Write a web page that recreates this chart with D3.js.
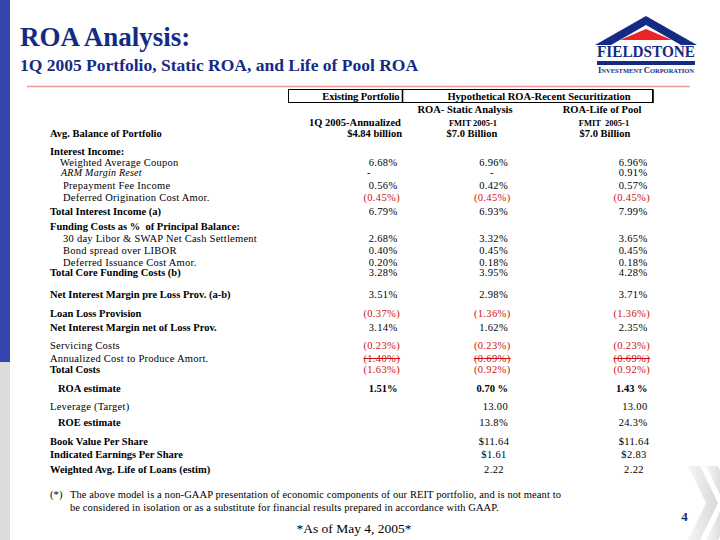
<!DOCTYPE html>
<html><head><meta charset="utf-8">
<script src="https://cdn.jsdelivr.net/npm/d3@7"></script>
<style>html,body{margin:0;padding:0;background:#fff;}svg{display:block;}</style>
</head><body>
<script>
// ---------------- DATA ----------------
const rowLabels = ["Interest Income:", "Weighted Average Coupon", "ARM Margin Reset", "Prepayment Fee Income",
  "Deferred Origination Cost Amor.", "Total Interest Income (a)", "Funding Costs as %  of Principal Balance:",
  "30 day Libor & SWAP Net Cash Settlement", "Bond spread over LIBOR", "Deferred Issuance Cost Amor.",
  "Total Core Funding Costs (b)", "Net Interest Margin pre Loss Prov. (a-b)", "Loan Loss Provision",
  "Net Interest Margin net of Loss Prov.", "Servicing Costs", "Annualized Cost to Produce Amort.", "Total Costs",
  "ROA estimate", "Leverage (Target)", "ROE estimate", "Book Value Per Share", "Indicated Earnings Per Share",
  "Weighted Avg. Life of Loans (estim)"];
const existing   = ["", "6.68%", "-", "0.56%", "(0.45%)", "6.79%", "", "2.68%", "0.40%", "0.20%", "3.28%", "3.51%", "(0.37%)", "3.14%", "(0.23%)", "(1.40%)", "(1.63%)", "1.51%", "", "", "", "", ""];
const staticROA  = ["", "6.96%", "-", "0.42%", "(0.45%)", "6.93%", "", "3.32%", "0.45%", "0.18%", "3.95%", "2.98%", "(1.36%)", "1.62%", "(0.23%)", "(0.69%)", "(0.92%)", "0.70 %", "13.00", "13.8%", "$11.64", "$1.61", "2.22"];
const lifeOfPool = ["", "6.96%", "0.91%", "0.57%", "(0.45%)", "7.99%", "", "3.65%", "0.45%", "0.18%", "4.28%", "3.71%", "(1.36%)", "2.35%", "(0.23%)", "(0.69%)", "(0.92%)", "1.43 %", "13.00", "24.3%", "$11.64", "$2.83", "2.22"];
const columnGroups = ["Existing Portfolio", "Hypothetical ROA-Recent Securitization"];
const columnTitles = ["1Q 2005-Annualized", "ROA- Static Analysis", "ROA-Life of Pool"];
const columnSubtitles = ["", "FMIT 2005-1", "FMIT  2005-1"];
const balanceLabel = "Avg. Balance of Portfolio";
const balances = ["$4.84 billion", "$7.0 Billion", "$7.0 Billion"];
const title = "ROA Analysis:";
const subtitle = "1Q 2005 Portfolio, Static ROA, and Life of Pool ROA";
const footnote = ["The above model is a non-GAAP presentation of economic components of our REIT portfolio, and is not meant to",
  "be considered in isolation or as a substitute for financial results prepared in accordance with GAAP."];
const asOf = "*As of May 4, 2005*";
const pageNum = "4";

// ---------------- LAYOUT ----------------
const rowY = [151,162,172.5,185,197,211,226,238,250,262,272,294,313,327,345,358,369,388,406,422,441,454,469];
const labelStyle = ["b","r","i","r","r","b","b","r","r","r","b","b","b","b","r","r","b","b","r","b","b","b","b"];
const labelX = [50,60,61,63,63,50,50,63,63,63,50,50,50,50,50,50,50,58,50,58,50,50,50];
const W = 720, H = 540;
const NAVY = "#142b84", RED = "#cc1111";
const SERIF = "'Liberation Serif','Times New Roman',serif";

const svg = d3.select("body").append("svg").attr("width", W).attr("height", H);
svg.append("rect").attr("width", W).attr("height", H).attr("fill", "#fff");

// left bar
svg.append("rect").attr("x",0).attr("y",0).attr("width",10).attr("height",362).attr("fill","#3545b0");
svg.append("rect").attr("x",0).attr("y",362).attr("width",10).attr("height",H-362).attr("fill","#dcdcdc");

// titles
svg.append("text").attr("x",20).attr("y",46).attr("font-family",SERIF).attr("font-weight","bold")
  .attr("font-size",27).attr("fill",NAVY).text(title);
svg.append("text").attr("x",20).attr("y",71).attr("font-family",SERIF).attr("font-weight","bold")
  .attr("font-size",17.5).attr("fill",NAVY).text(subtitle);
svg.append("line").attr("x1",27).attr("x2",690).attr("y1",86.5).attr("y2",86.5)
  .attr("stroke","#ee9a9a").attr("stroke-width",1.5);

// logo
const logo = svg.append("g");
logo.append("polygon").attr("points","646,16 595,45 611,45 646,25 681,45 697,45").attr("fill",NAVY);
logo.append("polygon").attr("points","646,29 620,40 672,40").attr("fill","#e8262a");
logo.append("text").attr("x",646).attr("y",57).attr("text-anchor","middle").attr("font-family",SERIF)
  .attr("font-weight","bold").attr("font-size",16).attr("fill",NAVY)
  .attr("textLength",98).attr("lengthAdjust","spacingAndGlyphs").text("FIELDSTONE");
logo.append("rect").attr("x",597).attr("y",61).attr("width",98).attr("height",4).attr("fill",NAVY);
const inv = logo.append("text").attr("x",646).attr("y",73).attr("text-anchor","middle").attr("font-family",SERIF)
  .attr("font-weight","bold").attr("fill",NAVY).attr("textLength",96).attr("lengthAdjust","spacingAndGlyphs");
[["I",8],["NVESTMENT ",6],["C",8],["ORPORATION",6]].forEach(([t,s])=>inv.append("tspan").attr("font-size",s).text(t));

// header boxes
const box = svg.append("g");
box.append("rect").attr("x",288.5).attr("y",89.5).attr("width",364).attr("height",13).attr("fill","none").attr("stroke","#000");
box.append("line").attr("x1",402.5).attr("x2",402.5).attr("y1",89.5).attr("y2",102.5).attr("stroke","#000").attr("stroke-width",1.6);
box.append("line").attr("x1",653).attr("x2",653).attr("y1",89.5).attr("y2",103).attr("stroke","#000").attr("stroke-width",1.6);
const bold = (sel)=>sel.attr("font-family",SERIF).attr("font-weight","bold").attr("font-size",10.5);
bold(box.append("text")).attr("x",399.5).attr("y",100).attr("text-anchor","end").attr("letter-spacing",-0.1).text(columnGroups[0]);
bold(box.append("text")).attr("x",539).attr("y",100).attr("text-anchor","middle").text(columnGroups[1]);

const headerX = [355, 465, 602];
const subX = [0, 473, 604];
columnTitles.forEach((t,i)=>{
  bold(svg.append("text")).attr("x",headerX[i]).attr("y", i===0?126:113).attr("text-anchor","middle").text(t);
  if (columnSubtitles[i]) bold(svg.append("text")).attr("x",subX[i]).attr("y",126)
    .attr("font-size",8.5).attr("text-anchor","middle").style("white-space","pre").text(columnSubtitles[i]);
});
bold(svg.append("text")).attr("x",50).attr("y",137).text(balanceLabel);
const balX = [402, 472, 605];
balances.forEach((b,i)=>bold(svg.append("text")).attr("x",balX[i]).attr("y",137)
  .attr("text-anchor", i===0?"end":"middle").text(b));

// row labels
svg.append("g").selectAll("text").data(rowLabels).join("text")
  .attr("x",(d,i)=>labelX[i]).attr("y",(d,i)=>rowY[i]+3.5)
  .attr("font-family",SERIF)
  .attr("font-size",(d,i)=>labelStyle[i]==="i"?10:10.5)
  .attr("font-weight",(d,i)=>labelStyle[i]==="b"?"bold":"normal")
  .attr("font-style",(d,i)=>labelStyle[i]==="i"?"italic":"normal")
  .attr("letter-spacing",(d,i)=>labelStyle[i]==="b"?0:0.25)
  .style("white-space","pre")
  .text(d=>d);

// value columns
const cols = [existing, staticROA, lifeOfPool];
const colRight = d3.scaleOrdinal().domain([0,1,2]).range([400, 510.5, 650]);
const colCenter = d3.scaleOrdinal().domain([0,1,2]).range([383, 494, 634]);
const dashX = d3.scaleOrdinal().domain([0,1,2]).range([367, 490, 630]);
const centerRows = new Set([20,21,22]);
const boldRow = 17, strikeRow = 15;
cols.forEach((vals, c)=>{
  const g = svg.append("g");
  vals.forEach((v,i)=>{
    if (!v) return;
    const neg = v.startsWith("(");
    let x, anchor;
    if (v === "-") { x = dashX(c); anchor = "start"; }
    else if (centerRows.has(i)) { x = colCenter(c); anchor = "middle"; }
    else { x = colRight(c) - (neg ? 0 : 2.5); anchor = "end"; }
    const t = g.append("text").attr("x",x).attr("y",rowY[i]+3.5).attr("text-anchor",anchor)
      .attr("font-family",SERIF).attr("font-size",10.5)
      .attr("font-weight", i===boldRow?"bold":"normal")
      .attr("letter-spacing", i===boldRow?0:0.35)
      .attr("fill", neg?RED:"#000").style("white-space","pre").text(v);
    if (i === strikeRow) {
      const bb = t.node().getBBox();
      g.append("line").attr("x1",bb.x).attr("x2",bb.x+bb.width).attr("y1",rowY[i]+0.5).attr("y2",rowY[i]+0.5)
        .attr("stroke",RED).attr("stroke-width",1);
    }
  });
});

// footnote
const fn = svg.append("g").attr("font-family",SERIF).attr("font-size",10.5).attr("letter-spacing",0.1);
fn.append("text").attr("x",50).attr("y",498).text("(*)");
footnote.forEach((l,i)=>fn.append("text").attr("x",70).attr("y",498+13*i).text(l));
svg.append("text").attr("x",354).attr("y",533).attr("text-anchor","middle").attr("font-family",SERIF)
  .attr("font-size",13.5).text(asOf);
svg.append("text").attr("x",684.5).attr("y",521).attr("text-anchor","middle").attr("font-family",SERIF)
  .attr("font-weight","bold").attr("font-size",13).attr("fill",NAVY).text(pageNum);

// chevrons
const chev = svg.append("g");
const grad = svg.append("defs").append("linearGradient").attr("id","cg").attr("x1",0).attr("x2",1).attr("y1",0).attr("y2",0);
grad.append("stop").attr("offset","0%").attr("stop-color","#f6f6f6");
grad.append("stop").attr("offset","100%").attr("stop-color","#d8d8d8");
chev.append("polygon").attr("points","688,466 700,466 718,503 700,540 688,540 706,503").attr("fill","url(#cg)");
chev.append("polygon").attr("points","706,466 718,466 720,470 720,536 718,540 706,540 724,503").attr("fill","url(#cg)");
</script>
</body></html>
